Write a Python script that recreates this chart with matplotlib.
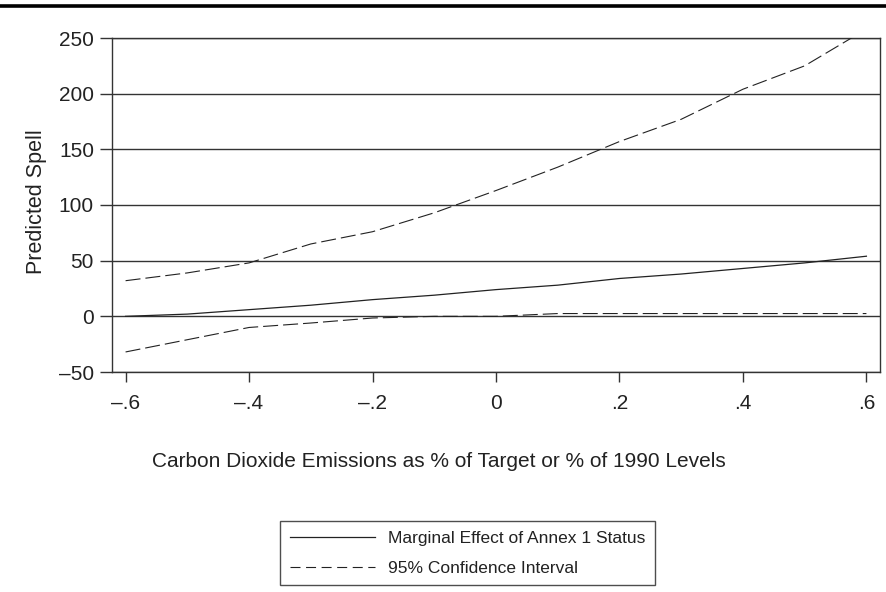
import matplotlib
matplotlib.use("Agg")
import matplotlib.pyplot as plt
from matplotlib.lines import Line2D

plt.rcParams['font.family'] = ['Liberation Sans', 'DejaVu Sans']

# Data
x = [-0.6, -0.5, -0.4, -0.3, -0.2, -0.1, 0.0, 0.1, 0.2, 0.3, 0.4, 0.5, 0.6]
marginal = [0, 2, 6, 10, 15, 19, 24, 28, 34, 38, 43, 48, 54]
upper_ci = [32, 39, 48, 65, 76, 93, 113, 134, 157, 177, 204, 225, 258]
lower_ci = [-32, -21, -10, -6, -1.5, 0, 0, 2.5, 2.5, 2.5, 2.5, 2.5, 2.5]

xticks = [-0.6, -0.4, -0.2, 0, 0.2, 0.4, 0.6]
xticklabels = ['\u2013.6', '\u2013.4', '\u2013.2', '0', '.2', '.4', '.6']
yticks = [-50, 0, 50, 100, 150, 200, 250]
yticklabels = ['\u201350', '0', '50', '100', '150', '200', '250']

fig = plt.figure(figsize=(8.87, 5.92), dpi=100)
ax = fig.add_axes([112/887, 1 - 372/592, 768/887, 334/592])

# Thick rule across the top of the page
fig.add_artist(Line2D([0, 1], [1 - 5.5/592, 1 - 5.5/592], transform=fig.transFigure,
                      color='black', lw=2.6))

# Horizontal grid lines
for yv in yticks:
    ax.axhline(yv, color='#333333', lw=1.0, zorder=1)

line_color = '#222222'
ax.plot(x, marginal, color=line_color, lw=0.9, zorder=3,
        label='Marginal Effect of Annex 1 Status')
ax.plot(x, upper_ci, color=line_color, lw=0.8, dashes=(13.5, 4.5), zorder=3,
        label='95% Confidence Interval')
ax.plot(x, lower_ci, color=line_color, lw=0.8, dashes=(13.5, 4.5), zorder=3)

ax.set_xlim(-0.622, 0.622)
ax.set_ylim(-50, 250)

ax.set_xticks(xticks)
ax.set_xticklabels(xticklabels)
ax.set_yticks(yticks)
ax.set_yticklabels(yticklabels)
ax.tick_params(axis='both', direction='out', length=7, width=1, color='#333333',
               labelsize=15, labelcolor='#222222')
ax.tick_params(axis='x', pad=9)
ax.tick_params(axis='y', length=9, pad=4)

for sp in ax.spines.values():
    sp.set_color('#333333')
    sp.set_linewidth(1.0)

ax.set_ylabel('Predicted Spell', fontsize=15.5, color='#222222')
ax.yaxis.set_label_coords(-0.085, 0.51)
ax.set_xlabel('Carbon Dioxide Emissions as % of Target or % of 1990 Levels',
              fontsize=15, color='#222222')
ax.xaxis.set_label_coords(0.426, -0.24)

handles = [Line2D([], [], color=line_color, lw=0.9),
           Line2D([], [], color=line_color, lw=0.8, dashes=(9, 5))]
leg = fig.legend(handles, ['Marginal Effect of Annex 1 Status', '95% Confidence Interval'],
                 loc='upper left', bbox_to_anchor=(280/887, 1 - 521/592),
                 frameon=True, fancybox=False, edgecolor='#222222',
                 fontsize=12.5, handlelength=4.9, handletextpad=0.75,
                 labelspacing=0.85, borderpad=0.55, borderaxespad=0)
leg.get_frame().set_linewidth(1.0)
for t in leg.get_texts():
    t.set_color('#222222')

fig.savefig('out.png', dpi=100)
